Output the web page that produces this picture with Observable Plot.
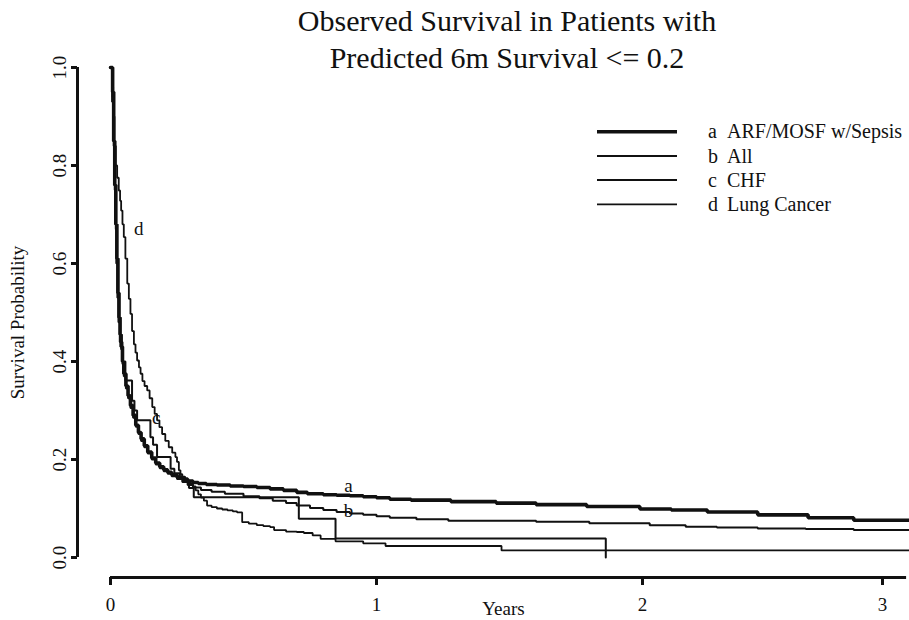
<!DOCTYPE html>
<html>
<head>
<meta charset="utf-8">
<script src="https://cdn.jsdelivr.net/npm/d3@7"></script>
<script src="https://cdn.jsdelivr.net/npm/@observablehq/plot@0.6"></script>
<style>
  body { margin: 0; background: #fff; }
  #wrap { position: relative; width: 909px; height: 620px; font-family: "Liberation Serif", "Times New Roman", serif; color: #111; }
  #title { position: absolute; left: 207px; top: 1.6px; width: 600px; text-align: center; font-size: 30px; line-height: 37.5px; white-space: nowrap; }
  #legend { position: absolute; left: 0; top: 0; pointer-events: none; }
</style>
</head>
<body>
<div id="wrap">
  <div id="chart"></div>
  <div id="title">Observed Survival in Patients with<br>Predicted 6m Survival &lt;= 0.2</div>
  <svg id="legend" width="909" height="620"></svg>
</div>
<script>
// ---- data ----
const keys = ["a", "b", "c", "d"];
const names = ["ARF/MOSF w/Sepsis", "All", "CHF", "Lung Cancer"];

// a: ARF/MOSF w/Sepsis
const tA = [0, 0.008, 0.012, 0.016, 0.020, 0.024, 0.028, 0.032, 0.036, 0.040, 0.045, 0.050, 0.058, 0.066, 0.075, 0.085, 0.095, 0.105, 0.115, 0.127, 0.140, 0.155, 0.17, 0.185, 0.20, 0.215, 0.23, 0.25, 0.27, 0.29, 0.31, 0.33, 0.36, 0.40, 0.45, 0.50, 0.55, 0.60, 0.65, 0.70, 0.74, 0.80, 0.85, 0.90, 0.95, 1.00, 1.05, 1.13, 1.28, 1.45, 1.60, 1.79, 1.99, 2.12, 2.27, 2.48, 2.69, 2.88, 3.11];
const sA = [1.0, 0.95, 0.85, 0.76, 0.68, 0.61, 0.54, 0.49, 0.455, 0.43, 0.40, 0.375, 0.35, 0.33, 0.31, 0.29, 0.27, 0.255, 0.242, 0.228, 0.215, 0.203, 0.193, 0.185, 0.179, 0.174, 0.169, 0.164, 0.160, 0.156, 0.153, 0.151, 0.149, 0.148, 0.146, 0.145, 0.143, 0.140, 0.137, 0.133, 0.130, 0.128, 0.127, 0.126, 0.124, 0.122, 0.119, 0.117, 0.114, 0.111, 0.108, 0.104, 0.099, 0.097, 0.093, 0.087, 0.081, 0.076, 0.076];

// b: All
const tB = [0, 0.008, 0.012, 0.016, 0.020, 0.024, 0.028, 0.032, 0.036, 0.040, 0.045, 0.050, 0.058, 0.066, 0.075, 0.085, 0.095, 0.105, 0.115, 0.127, 0.140, 0.155, 0.17, 0.185, 0.20, 0.215, 0.23, 0.25, 0.27, 0.29, 0.31, 0.34, 0.38, 0.43, 0.50, 0.56, 0.61, 0.66, 0.70, 0.75, 0.80, 0.85, 0.90, 0.95, 1.00, 1.05, 1.15, 1.27, 1.60, 1.80, 2.03, 2.18, 2.31, 2.48, 2.68, 2.88, 3.11];
const sB = [1.0, 0.94, 0.84, 0.75, 0.67, 0.60, 0.535, 0.485, 0.45, 0.425, 0.395, 0.37, 0.345, 0.325, 0.305, 0.285, 0.267, 0.252, 0.238, 0.225, 0.212, 0.200, 0.19, 0.182, 0.176, 0.171, 0.166, 0.16, 0.154, 0.148, 0.143, 0.138, 0.134, 0.130, 0.125, 0.121, 0.116, 0.111, 0.106, 0.101, 0.097, 0.093, 0.090, 0.087, 0.084, 0.081, 0.078, 0.075, 0.073, 0.070, 0.066, 0.063, 0.061, 0.059, 0.058, 0.056, 0.056];

// c: CHF
const tC = [0, 0.006, 0.010, 0.014, 0.018, 0.022, 0.026, 0.030, 0.035, 0.045, 0.056, 0.081, 0.090, 0.100, 0.150, 0.160, 0.175, 0.226, 0.24, 0.26, 0.28, 0.295, 0.313, 0.708, 0.846, 1.862];
const sC = [1.0, 0.93, 0.85, 0.76, 0.68, 0.60, 0.53, 0.48, 0.44, 0.40, 0.361, 0.32, 0.30, 0.28, 0.2455, 0.23, 0.205, 0.181, 0.172, 0.165, 0.155, 0.142, 0.123, 0.079, 0.0386, 0];

// d: Lung Cancer
const tD = [0, 0.006, 0.010, 0.015, 0.020, 0.025, 0.031, 0.036, 0.040, 0.045, 0.050, 0.056, 0.063, 0.069, 0.075, 0.081, 0.088, 0.094, 0.100, 0.107, 0.113, 0.120, 0.128, 0.138, 0.147, 0.157, 0.166, 0.175, 0.184, 0.194, 0.206, 0.219, 0.232, 0.244, 0.250, 0.257, 0.263, 0.27, 0.28, 0.29, 0.30, 0.31, 0.32, 0.33, 0.34, 0.351, 0.363, 0.38, 0.40, 0.42, 0.44, 0.46, 0.476, 0.495, 0.52, 0.55, 0.575, 0.60, 0.615, 0.66, 0.70, 0.727, 0.76, 0.79, 0.846, 0.95, 1.034, 1.47, 3.11];
const sD = [1.0, 0.96, 0.90, 0.84, 0.80, 0.775, 0.749, 0.728, 0.708, 0.68, 0.654, 0.61, 0.559, 0.528, 0.497, 0.462, 0.435, 0.418, 0.402, 0.388, 0.375, 0.36, 0.35, 0.341, 0.325, 0.307, 0.293, 0.28, 0.266, 0.252, 0.238, 0.225, 0.214, 0.205, 0.195, 0.178, 0.17, 0.164, 0.158, 0.155, 0.151, 0.145, 0.137, 0.129, 0.122, 0.116, 0.106, 0.103, 0.100, 0.098, 0.096, 0.094, 0.092, 0.072, 0.069, 0.066, 0.064, 0.062, 0.056, 0.053, 0.052, 0.050, 0.045, 0.038, 0.033, 0.029, 0.0235, 0.0145, 0.0145];

// curve label positions (years, survival)
const labelKeys = ["a", "b", "c", "d"];
const labelT = [0.895, 0.895, 0.172, 0.106];
const labelS = [0.147, 0.096, 0.284, 0.671];

const xTicks = [0, 1, 2, 3];
const yTicks = [0, 0.2, 0.4, 0.6, 0.8, 1.0];
const xLabel = "Years";
const yLabel = "Survival Probability";

// ---- styles ----
const ink = "#111";
const lineWidths = [3.6, 2, 2, 1.8];

const rows = (ts, ss) => ts.map((t, i) => ({t, s: ss[i]}));
const series = [rows(tA, sA), rows(tB, sB), rows(tC, sC), rows(tD, sD)];
const labels = labelKeys.map((k, i) => ({k, t: labelT[i], s: labelS[i]}));

const chart = Plot.plot({
  width: 909,
  height: 620,
  marginLeft: 77,
  marginRight: 0,
  marginTop: 67,
  marginBottom: 43,
  style: {fontFamily: "'Liberation Serif', 'Times New Roman', serif", fontSize: "19px", color: ink, background: "transparent", overflow: "visible"},
  x: {type: "linear", domain: [0, 1, 2, 3, 3.11], range: [110, 376, 642, 882, 908.5]},
  y: {type: "linear", domain: [0, 1], range: [557, 67]},
  marks: [
    Plot.ruleY([0], {x1: 0, x2: 3.1, dy: 20, stroke: ink, strokeWidth: 3}),
    Plot.ruleX([0], {y1: 0, y2: 1, dx: -33, stroke: ink, strokeWidth: 3}),
    Plot.axisX({ticks: xTicks, tickSize: 8, tickPadding: 12, stroke: ink, strokeWidth: 3, fill: ink, fontSize: 19, label: null, tickFormat: d => String(d)}),
    Plot.axisY({ticks: yTicks, tickSize: 6, tickPadding: 6, tickRotate: -90, stroke: ink, strokeWidth: 3, fill: ink, fontSize: 19, label: null, tickFormat: d => d.toFixed(1)}),
    Plot.text([xLabel], {text: d => d, frameAnchor: "bottom", dx: 10, dy: 37, lineAnchor: "bottom", fontSize: 19, fill: ink}),
    Plot.text([yLabel], {text: d => d, frameAnchor: "left", rotate: -90, dx: -54, lineAnchor: "bottom", textAnchor: "middle", fontSize: 19, fill: ink}),
    ...series.map((data, i) => Plot.line(data, {x: "t", y: "s", curve: "step-after", stroke: ink, strokeWidth: lineWidths[i], strokeLinejoin: "miter"})),
    Plot.text(labels, {x: "t", y: "s", text: "k", fontSize: 19, fill: ink, textAnchor: "middle", lineAnchor: "middle"})
  ]
});
document.getElementById("chart").appendChild(chart);

// ---- legend (top right, inside the plot area) ----
const leg = d3.select("#legend");
keys.forEach((k, i) => {
  const y = 131.7 + i * 24.2;
  leg.append("line").attr("x1", 597).attr("x2", 677).attr("y1", y).attr("y2", y)
    .attr("stroke", ink).attr("stroke-width", lineWidths[i]);
  leg.append("text").attr("x", 708).attr("y", y + 6.6)
    .attr("font-family", "'Liberation Serif', 'Times New Roman', serif").attr("font-size", 20).attr("fill", ink).text(k);
  leg.append("text").attr("x", 727).attr("y", y + 6.6)
    .attr("font-family", "'Liberation Serif', 'Times New Roman', serif").attr("font-size", 20).attr("fill", ink).text(names[i]);
});
</script>
</body>
</html>
